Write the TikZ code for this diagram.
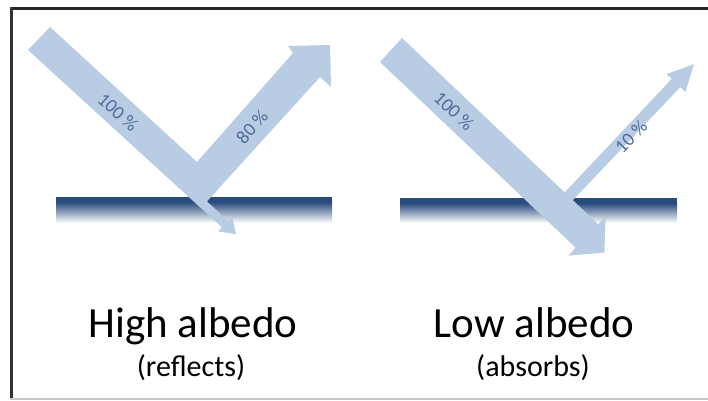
\documentclass[tikz,border=0pt]{standalone}
\usepackage{fontspec}
\setmainfont{Carlito}
\definecolor{arrowfill}{HTML}{B8CCE4}
\definecolor{labelblue}{HTML}{4C6C9C}
\definecolor{bardark}{HTML}{294B7D}
\definecolor{barmid}{HTML}{8FA5C4}
\definecolor{framegrey}{HTML}{C8C8C8}
\tikzset{
  beam/.style={fill=arrowfill, draw=none},
  pct/.style={text=labelblue, font=\fontsize{19}{19}\selectfont, inner sep=0pt},
  title/.style={anchor=base, font=\fontsize{43}{43}\selectfont, inner sep=0pt},
  subtitle/.style={anchor=base, font=\fontsize{30}{30}\selectfont, inner sep=0pt},
}
\begin{document}
\begin{tikzpicture}[x=1pt,y=-1pt]
\useasboundingbox (0,0) rectangle (708,400);
\fill[white] (0,0) rectangle (708,400);
% frame
\fill[black!85] (10,7) rectangle (708,10);
\fill[black!80] (10,7) rectangle (13,398);
\fill[framegrey] (10,398) rectangle (708,400);
% surfaces
\fill[bardark] (56,197) rectangle (332,202);
\shade[top color=bardark, middle color=barmid, bottom color=white] (56,202) rectangle (332,223);
\fill[bardark] (400,198) rectangle (677,203);
\shade[top color=bardark, middle color=barmid, bottom color=white] (400,203) rectangle (677,223);
% left panel beams
\fill[beam] (28,50) -- (50,27) -- (197,162) -- (293,53) -- (288,46) -- (330,45)
  -- (331,87) -- (320,77) -- (206.9,201.4) -- (228.1,220.8) -- (232.1,216.4)
  -- (236.1,234.2) -- (218,231.4) -- (222,227.4) -- cycle;
% right panel beams
\fill[beam] (380,62) -- (402,38) -- (598.2,224.2) -- (605.6,216.4) -- (604.4,252.5)
  -- (568.4,255.6) -- (575.8,247.8) -- cycle;
\fill[beam] (560.1,197.2) -- (671.7,78.9) -- (666.6,74.0) -- (693.9,64.2)
  -- (685.4,92) -- (680.3,87.1) -- (566.1,207.2) -- cycle;
% percentage labels
\node[pct, rotate=-42] (inL) at (118,112) {100 \%};
\node[pct, rotate=48] (outL) at (252,127) {80 \%};
\node[pct, rotate=-43.5] (inR) at (454,111) {100 \%};
\node[pct, rotate=46] (outR) at (631,137) {10 \%};
% captions
\node[title] (hi) at (193,337) {High albedo};
\node[subtitle] (hisub) at (191,376) {(reflects)};
\node[title] (lo) at (534,337) {Low albedo};
\node[subtitle] (losub) at (533,376) {(absorbs)};
\end{tikzpicture}
\end{document}
